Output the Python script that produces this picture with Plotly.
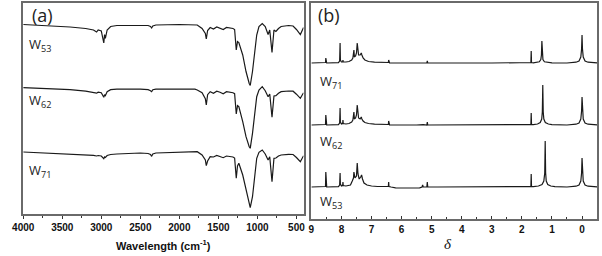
import plotly.graph_objects as go

# ---------------- (a) FTIR spectra ----------------
wavenumber = [4000, 3700, 3400, 3200, 3100, 3060, 3040, 3000, 2968, 2958, 2948, 2925, 2880, 2800,
              2500, 2400, 2370, 2355, 2340, 2300, 2000, 1800, 1771, 1709, 1667, 1655, 1638, 1605,
              1563, 1521, 1479, 1438, 1396, 1354, 1313, 1292, 1271, 1255, 1238, 1188, 1146, 1105,
              1092, 1063, 1034, 1009, 980, 938, 900, 863, 842, 813, 788, 763, 730, 696, 600, 543,
              500, 450, 409]
# absorption depth below each trace's baseline (a.u.)
depth_W53 = [0, 1, 2.5, 4, 5.5, 7.5, 5.5, 6.5, 18.5, 10, 14, 5.5, 2, 1, 0.5, 1, 2, 3.5, 1.5, 0.5,
             0, 0, 0.5, 4, 9, 14.5, 6, 3, 4.5, 2.5, 3.5, 5, 3, 3.5, 4, 5, 25.5, 17, 18, 30.5, 47,
             59, 61, 47, 27, 10.5, 2, -1, 2, 10, 5.5, 28, 5.5, 7, 4, 2, 1, 1.5, 5, 10, 3]
depth_W62 = [0, 1, 2, 3.5, 4.5, 5.5, 4.5, 5, 9.5, 7, 8, 4, 2, 1.5, 1.5, 2, 3, 4, 2, 1.5,
             1.5, 1.5, 2.3, 5, 11, 17.3, 7, 4, 5.5, 3.5, 4.5, 6, 4, 4.5, 5, 6, 26.3, 18, 19, 34, 49,
             59, 60.6, 45.6, 25.6, 9, 2.3, -1, 3, 9, 6.3, 29.6, 8.3, 8, 5.6, 4, 3.3, 3.5, 6.5, 10.6, 5]
depth_W71 = [0, 1, 2, 3, 3.3, 4, 3.5, 4, 6.7, 5, 5.5, 3.5, 2.5, 2, 1, 1.5, 2.5, 4.3, 2, 1,
             0, -0.7, -0.3, 3, 8, 13.7, 9, 4.7, 5, 3.5, 4.5, 5.7, 4, 4.5, 5, 6, 26.3, 14, 11.3, 23,
             36.3, 51.3, 55.7, 44.7, 23, 6.3, 0.3, -2, 2, 8, 4.7, 29.7, 6.3, 6, 4, 3, 2.3, 2.5, 5.5,
             9.7, 3.7]
ftir_labels = ["W<sub>53</sub>", "W<sub>62</sub>", "W<sub>71</sub>"]
ftir_ticks = [4000, 3500, 3000, 2500, 2000, 1500, 1000, 500]

# ---------------- (b) 1H NMR spectra ----------------
delta_W71 = [9.0, 8.55, 8.53, 8.52, 8.51, 8.49, 8.10, 8.06, 8.045, 8.035, 8.00, 7.96, 7.95, 7.94,
             7.85, 7.75, 7.66, 7.62, 7.585, 7.57, 7.53, 7.50, 7.475, 7.46, 7.43, 7.38, 7.34, 7.32,
             7.28, 7.22, 7.10, 6.90, 6.60, 6.44, 6.43, 6.42, 6.40, 5.50, 5.16, 5.145, 5.13, 3.00,
             1.75, 1.70, 1.69, 1.68, 1.62, 1.50, 1.42, 1.37, 1.35, 1.335, 1.32, 1.30, 1.25, 1.15,
             1.00, 0.50, 0.20, 0.10, 0.04, 0.015, 0.0, -0.015, -0.04, -0.10, -0.20, -0.50]
int_W71 = [0, 0, 0.5, 5, 0.5, 0, 0.3, 2, 20, 3, 1, 1, 3, 1, 1, 1.5, 3, 5, 13, 6, 7, 10, 20, 12,
           8, 8, 10, 8, 5, 3, 1.5, 0.8, 0.3, 0.5, 3, 0.5, 0, 0, 0, 2, 0, 0, 0, 0.5, 12, 0.5, 0.2,
           0.5, 1.2, 3.5, 8, 22, 8, 3.5, 1.2, 0.5, 0.2, 0, 0.8, 2, 6, 14, 28, 14, 6, 2, 0.8, 0.2]
delta_W62 = [9.0, 8.55, 8.53, 8.52, 8.51, 8.49, 8.10, 8.06, 8.045, 8.035, 8.00, 7.96, 7.95, 7.94,
             7.85, 7.75, 7.66, 7.62, 7.585, 7.57, 7.53, 7.50, 7.475, 7.46, 7.43, 7.38, 7.34, 7.32,
             7.28, 7.22, 7.10, 6.90, 6.60, 6.44, 6.43, 6.42, 6.40, 5.50, 5.32, 5.30, 5.28, 5.16,
             5.145, 5.13, 3.00, 1.75, 1.70, 1.69, 1.68, 1.62, 1.48, 1.39, 1.34, 1.32, 1.305, 1.29,
             1.27, 1.22, 1.12, 1.00, 0.50, 0.20, 0.10, 0.04, 0.015, 0.0, -0.015, -0.04, -0.10,
             -0.20, -0.50]
int_W62 = [0, 0, 0.5, 10, 0.5, 0, 0.3, 2, 17, 3, 1, 1.5, 5, 1.5, 1, 1.5, 3, 5, 13, 6, 7, 10, 20,
           11, 7, 6, 8, 6, 4, 2.5, 1.5, 0.8, 0.3, 0.5, 4, 0.5, 0, 0, 0.3, 1, 0.3, 0, 3, 0, 0, 0,
           0.5, 12, 0.5, 0.3, 1, 2.5, 6, 13, 40, 13, 6, 2.5, 1, 0.4, 0, 0.8, 2, 6, 14, 28, 14, 6,
           2, 0.8, 0.2]
delta_W53 = [9.0, 8.55, 8.53, 8.52, 8.51, 8.49, 8.10, 8.06, 8.045, 8.035, 8.00, 7.96, 7.95, 7.94,
             7.85, 7.75, 7.70, 7.64, 7.60, 7.585, 7.55, 7.50, 7.475, 7.45, 7.41, 7.36, 7.33, 7.30,
             7.25, 7.15, 7.00, 6.80, 6.50, 6.44, 6.43, 6.42, 6.35, 6.20, 5.80, 5.40, 5.32, 5.30,
             5.28, 5.16, 5.145, 5.13, 4.80, 3.00, 1.75, 1.70, 1.69, 1.68, 1.62, 1.45, 1.33, 1.27,
             1.24, 1.225, 1.21, 1.19, 1.14, 1.04, 0.90, 0.50, 0.20, 0.10, 0.04, 0.015, 0.0,
             -0.015, -0.04, -0.10, -0.20, -0.50]
int_W53 = [0, 0, 0.5, 15, 0.5, 0, 0.3, 2, 14, 3, 1, 1.5, 5, 1.5, 1, 1.5, 2, 6, 9, 15, 9, 11, 24,
           13, 8, 10, 12, 8, 4, 2, 1, 0.5, 0.3, 0.5, 5, 0.5, 0, -0.8, -1, -0.8, 0, 2, 0, 0, 5, 0,
           0, 0, 0, 0.5, 13, 0.5, 0.3, 1, 2.5, 6, 14, 46, 14, 6, 2.5, 1, 0.4, 0, 0.8, 2, 6, 14,
           29, 14, 6, 2, 0.8, 0.2]
nmr_labels = ["W<sub>71</sub>", "W<sub>62</sub>", "W<sub>53</sub>"]
nmr_ticks = [9, 8, 7, 6, 5, 4, 3, 2, 1, 0]

W, H = 602, 256
LINE = dict(color="#1a1a1a", width=1.2)
FRAME = "#6a6a6a"

fig = go.Figure()

# stacking offsets (layout only)
ftir_offsets = [189.5, 126.3, 62.0]
for depth, off in zip([depth_W53, depth_W62, depth_W71], ftir_offsets):
    fig.add_trace(go.Scatter(x=wavenumber, y=[off - d for d in depth], mode="lines",
                             line=LINE, xaxis="x", yaxis="y", showlegend=False,
                             hoverinfo="skip"))

nmr_offsets = [156.0, 94.0, 32.0]
for dx, iy, off in zip([delta_W71, delta_W62, delta_W53], [int_W71, int_W62, int_W53], nmr_offsets):
    fig.add_trace(go.Scatter(x=dx, y=[off + v for v in iy], mode="lines",
                             line=LINE, xaxis="x2", yaxis="y2", showlegend=False,
                             hoverinfo="skip"))

tickfont = dict(family="Liberation Sans, Arial, sans-serif", size=10, color="#111", weight=700)
common_x = dict(showline=True, mirror=True, linecolor=FRAME, linewidth=1.5, showgrid=False,
                zeroline=False, ticklen=3, tickwidth=1, tickcolor="#333", tickfont=tickfont)
common_y = dict(showline=True, mirror=True, linecolor=FRAME, linewidth=1.5, showgrid=False,
                zeroline=False, showticklabels=False, ticks="")

fig.update_layout(
    width=W, height=H, margin=dict(l=0, r=0, t=0, b=0),
    paper_bgcolor="white", plot_bgcolor="white",
    xaxis=dict(domain=[12.5 / W, 299 / W], range=[4000, 409], tickvals=ftir_ticks,
               ticks="outside",
               minor=dict(dtick=250, ticks="outside", ticklen=2, tickcolor="#333"),
               anchor="y", **common_x),
    yaxis=dict(domain=[42 / H, 253 / H], range=[0, 211], anchor="x", **common_y),
    xaxis2=dict(domain=[307 / W, 599 / W], range=[9, -0.5], tickvals=nmr_ticks,
                ticks="inside",
                minor=dict(dtick=0.5, ticks="inside", ticklen=2, tickcolor="#333"),
                anchor="y2", **common_x),
    yaxis2=dict(domain=[37 / H, 253 / H], range=[0, 216], anchor="x2", **common_y),
)

def px(x):
    return x / W

def py(y):
    return 1 - y / H

ann = []
lab_font = dict(family="Open Sans, Liberation Sans, sans-serif", size=13, color="#222")
for text, x, y in [("(a)", 19, 15), ("(b)", 312, 15)]:
    ann.append(dict(text=text, x=px(x), y=py(y), xref="paper", yref="paper", xanchor="left",
                    yanchor="middle", showarrow=False,
                    font=dict(family="Open Sans, Liberation Sans, sans-serif", size=18, color="#222")))
for text, y in zip(ftir_labels, [45, 101, 171]):
    ann.append(dict(text=text, x=px(16), y=py(y), xref="paper", yref="paper", xanchor="left",
                    yanchor="middle", showarrow=False, font=lab_font))
for text, y in zip(nmr_labels, [82, 142, 202]):
    ann.append(dict(text=text, x=px(314), y=py(y), xref="paper", yref="paper", xanchor="left",
                    yanchor="middle", showarrow=False, font=lab_font))
ann.append(dict(text="Wavelength (cm<sup>-1</sup>)", x=px(156), y=py(245), xref="paper",
                yref="paper", xanchor="center", yanchor="middle", showarrow=False,
                font=dict(family="Liberation Sans, Arial, sans-serif", size=11, color="#111",
                          weight=700)))
ann.append(dict(text="<i>δ</i>", x=px(447), y=py(244), xref="paper", yref="paper",
                xanchor="center", yanchor="middle", showarrow=False,
                font=dict(family="Liberation Serif, DejaVu Serif, serif", size=15, color="#111")))
fig.update_layout(annotations=ann)

fig.write_html("out.html", config={"displayModeBar": False},
               post_script="document.body.style.margin='0';document.body.style.overflow='hidden';")
